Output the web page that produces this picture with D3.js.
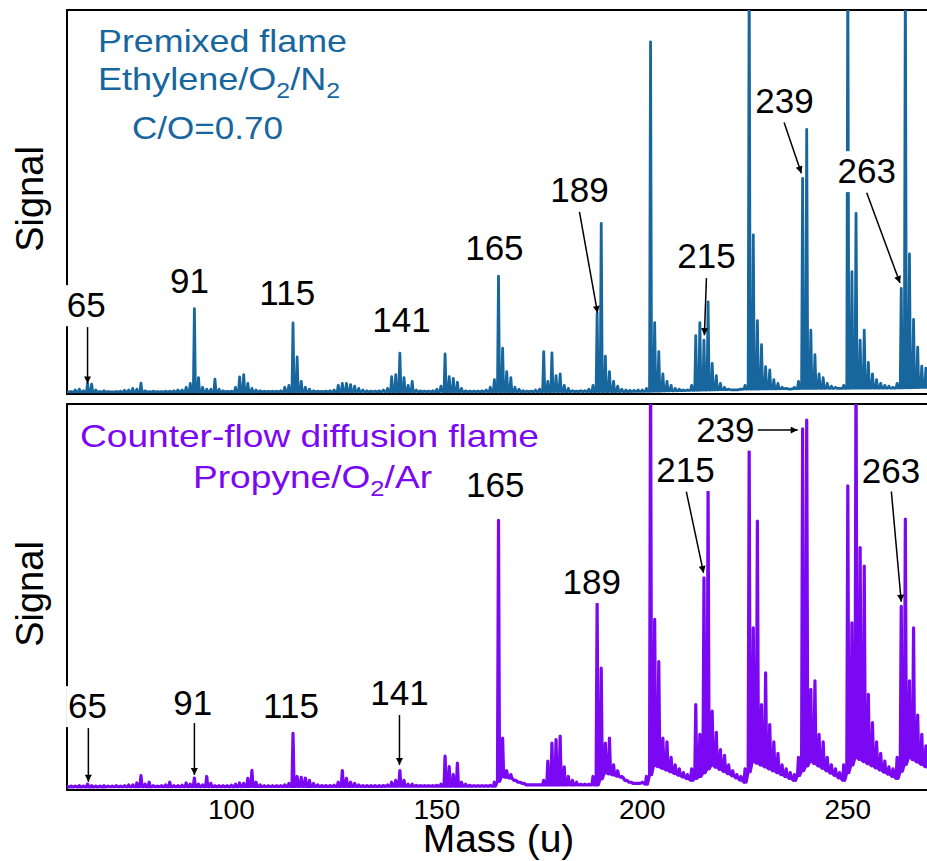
<!DOCTYPE html>
<html>
<head>
<meta charset="utf-8">
<script src="https://cdn.jsdelivr.net/npm/d3@7"></script>
<style>
body { margin: 0; background: #ffffff; }
svg text { font-family: "Liberation Sans", Arial, sans-serif; }
</style>
</head>
<body>
<div id="chart"></div>
<script>
// integer masses, 60..270 u
let masses = d3.range(60, 271);

// premixed flame signal (% of panel height, >100 runs off the top)
let signalTop = [
  0.3, 0.4, 0.8, 1.0, 0.6, 2.5, 2.3, 0.8, 0.4, 0.6,
  0.4, 0.3, 0.4, 0.5, 0.7, 0.8, 1.2, 1.0, 2.6, 0.6,
  0.4, 0.5, 0.4, 0.4, 0.5, 0.5, 0.6, 0.8, 0.8, 1.5,
  2.5, 22.0, 4.0, 1.5, 1.0, 1.0, 3.6, 1.0, 0.6, 0.4,
  0.5, 1.5, 4.2, 4.8, 2.5, 1.2, 0.8, 0.6, 0.5, 0.4,
  0.5, 0.5, 0.6, 1.5, 2.0, 18.3, 9.4, 3.0, 1.5, 1.0,
  0.6, 0.5, 0.4, 0.5, 0.6, 0.8, 2.0, 2.5, 2.5, 2.2,
  1.8, 1.2, 0.8, 0.6, 0.5, 0.5, 0.6, 0.8, 1.2, 4.3,
  4.8, 10.4, 4.0, 2.0, 3.0, 0.8, 0.6, 0.5, 0.5, 0.6,
  1.0, 1.8, 10.2, 4.3, 3.8, 2.8, 1.2, 0.6, 0.5, 0.5,
  0.5, 0.6, 0.8, 1.5, 3.5, 30.5, 11.7, 5.6, 4.0, 1.5,
  1.0, 0.6, 0.5, 0.5, 0.8, 1.0, 10.8, 3.0, 10.5, 4.5,
  5.0, 2.0, 1.2, 0.6, 0.5, 0.6, 0.6, 1.0, 2.0, 20.8,
  44.3, 9.6, 5.6, 3.0, 1.8, 1.0, 0.8, 0.7, 0.7, 0.8,
  0.8, 1.2, 91.7, 18.4, 10.8, 5.0, 3.0, 2.0, 1.2, 1.0,
  0.8, 0.8, 2.0, 15.0, 18.4, 13.8, 23.8, 7.7, 4.5, 2.5,
  1.5, 1.0, 0.8, 0.8, 1.0, 2.0, 112, 41.3, 18.9, 12.6,
  6.9, 6.0, 3.5, 2.5, 1.5, 1.2, 1.0, 1.5, 3.0, 56.0,
  68.8, 16.4, 10.0, 5.0, 4.0, 2.5, 1.8, 1.5, 1.2, 2.0,
  112, 31.7, 46.9, 13.8, 16.4, 8.0, 5.0, 3.5, 2.5, 2.0,
  1.8, 1.5, 2.5, 27.3, 112, 36.3, 19.2, 12.0, 7.0, 6.5,
  4.0
];

// counter-flow diffusion flame signal
let signalBottom = [
  0.4, 0.5, 0.5, 0.6, 0.5, 1.0, 0.6, 0.5, 0.5, 0.6,
  0.5, 0.5, 0.6, 0.5, 0.6, 0.8, 0.8, 1.3, 3.2, 1.0,
  1.5, 0.6, 0.5, 0.6, 0.8, 1.5, 0.6, 0.6, 0.7, 1.3,
  1.0, 2.6, 1.0, 0.8, 3.0, 1.2, 0.6, 0.6, 0.6, 0.6,
  0.7, 1.0, 1.3, 1.2, 2.5, 4.6, 1.5, 0.8, 0.6, 0.6,
  0.6, 0.6, 0.6, 0.8, 1.2, 14.2, 3.0, 2.8, 2.6, 2.0,
  1.2, 0.8, 0.6, 0.6, 0.6, 0.7, 1.5, 4.5, 2.5, 1.5,
  1.2, 0.8, 0.6, 0.6, 0.6, 0.6, 0.6, 0.7, 0.8, 1.5,
  2.0, 4.5, 2.0, 1.0, 1.0, 0.7, 0.6, 0.6, 0.6, 0.6,
  0.7, 1.0, 8.3, 5.6, 3.5, 6.5, 1.5, 1.0, 0.7, 0.6,
  0.6, 0.6, 0.6, 0.7, 1.5, 69.7, 13.0, 4.5, 3.5, 2.0,
  1.5, 1.2, 0.8, 0.8, 0.8, 0.8, 2.0, 7.0, 11.7, 12.6,
  13.5, 5.5, 3.0, 2.0, 1.5, 1.0, 1.0, 1.0, 3.0, 48.2,
  31.2, 11.7, 13.0, 6.0, 4.5, 3.0, 2.0, 1.5, 1.2, 1.2,
  1.5, 3.0, 112, 43.9, 32.9, 13.0, 12.0, 8.0, 6.0, 5.0,
  4.0, 3.5, 5.0, 21.7, 14.0, 54.7, 77.4, 20.0, 14.5, 10.0,
  8.5, 6.0, 4.5, 3.5, 3.0, 5.0, 87.8, 41.7, 69.5, 21.7,
  30.0, 16.5, 12.0, 9.0, 6.0, 5.0, 4.0, 3.5, 8.0, 93.5,
  95.8, 25.7, 27.9, 14.0, 12.0, 8.0, 6.0, 5.0, 4.0, 6.0,
  78.7, 43.0, 112, 62.6, 57.8, 24.4, 17.0, 12.0, 9.0, 7.0,
  5.5, 5.0, 8.0, 47.3, 70.0, 27.9, 41.7, 19.0, 14.0, 11.0,
  9.0
];

// background level between the mass peaks
let floorMassTop = [60, 200, 225, 240, 262, 270];
let floorTop = [0.3, 0.4, 1.0, 1.2, 1.3, 1.5];
let floorMassBottom = [60, 164, 166, 176, 189, 191, 201, 203, 212, 214, 217, 225, 227, 237, 241, 249, 252, 262, 265, 270];
let floorBottom = [0.3, 0.5, 3, 0.8, 0.8, 4, 1.0, 6, 2, 3, 6, 1.5, 7, 2, 7, 2, 8, 2.5, 8, 5];

let massTicks = [100, 150, 200, 250];

// peak labels: text anchor and optional arrow, in (mass, signal) units
let labelsTop = [
  {text: "65",  at: [64.7, 19.8], arrow: [[65, 17.2], [65, 2.5]]},
  {text: "91",  at: [89.8, 26.1]},
  {text: "115", at: [113.6, 23.0]},
  {text: "141", at: [141.4, 15.9]},
  {text: "165", at: [164.0, 34.7]},
  {text: "189", at: [184.7, 49.9], arrow: [[184.7, 47.3], [189.1, 20.9]]},
  {text: "215", at: [215.6, 32.6], arrow: [[215.6, 30.0], [215.1, 15.1]]},
  {text: "239", at: [234.6, 73.1], arrow: [[234.5, 70.6], [238.7, 57.4]]},
  {text: "263", at: [254.6, 54.8], arrow: [[254.6, 52.3], [262.7, 28.7]]}
];
let labelsBottom = [
  {text: "65",  at: [65.0, 18.2], arrow: [[65.2, 15.6], [65.2, 1.6]]},
  {text: "91",  at: [90.6, 19.0], arrow: [[91.0, 16.9], [91.0, 3.4]]},
  {text: "115", at: [114.5, 18.2]},
  {text: "141", at: [140.9, 21.6], arrow: [[140.9, 19.0], [140.9, 6.0]]},
  {text: "165", at: [164.2, 75.8]},
  {text: "189", at: [187.7, 50.5]},
  {text: "215", at: [210.5, 79.7], arrow: [[210.7, 77.2], [214.9, 56.0]]},
  {text: "239", at: [220.2, 90.2], arrow: [[228.1, 93.2], [237.8, 93.2]]},
  {text: "263", at: [260.5, 79.4], arrow: [[260.6, 77.2], [263.0, 48.5]]}
];

let blue = "#17669e";
let purple = "#7a08f2";

const width = 927;
const height = 861;
const left = 67;
const right = 930;

var svg = d3.select("#chart")
    .append("svg")
    .attr("width", width)
    .attr("height", height);

var defs = svg.append("defs");
defs.append("marker")
    .attr("id", "head")
    .attr("viewBox", "0 0 10 10")
    .attr("refX", 10)
    .attr("refY", 5)
    .attr("markerWidth", 10)
    .attr("markerHeight", 7)
    .attr("markerUnits", "userSpaceOnUse")
    .attr("orient", "auto")
    .append("path")
    .attr("d", "M0,0 L10,5 L0,10 Z")
    .attr("fill", "#000");

var x = d3.scaleLinear().domain([60, 270]).range([left, right]);

var panels = [
    {id: "top", top: 10, base: 393, bottom: 394, values: signalTop, floorMass: floorMassTop, floor: floorTop,
     colour: blue, weight: 2.8, labels: labelsTop, signalY: 199},
    {id: "bottom", top: 404, base: 788, bottom: 790, values: signalBottom, floorMass: floorMassBottom, floor: floorBottom,
     colour: purple, weight: 3.2, labels: labelsBottom, signalY: 594}
];

panels.forEach(function(p) {
    var y = d3.scaleLinear().domain([0, 100]).range([p.base, p.top]);
    var floorAt = d3.scaleLinear().domain(p.floorMass).range(p.floor).clamp(true);

    defs.append("clipPath")
        .attr("id", "clip-" + p.id)
        .append("rect")
        .attr("x", left)
        .attr("y", p.top)
        .attr("width", right - left)
        .attr("height", p.bottom - p.top);

    svg.append("rect")
        .attr("x", left)
        .attr("y", p.top)
        .attr("width", right - left)
        .attr("height", p.bottom - p.top)
        .attr("fill", "none")
        .attr("stroke", "#000")
        .attr("stroke-width", 2);

    // each mass becomes a narrow spike standing on the background
    var pts = [];
    masses.forEach(function(m, i) {
        var f = Math.min(floorAt(m), p.values[i]);
        pts.push([m - 0.25, f], [m, p.values[i]], [m + 0.25, f]);
    });

    var line = d3.line()
        .x(function(d) { return x(d[0]); })
        .y(function(d) { return y(d[1]); });

    svg.append("path")
        .datum(pts)
        .attr("clip-path", "url(#clip-" + p.id + ")")
        .attr("d", line)
        .attr("fill", "none")
        .attr("stroke", p.colour)
        .attr("stroke-width", p.weight)
        .attr("stroke-linejoin", "round");

    // labels with a white backing, then arrows
    var g = svg.append("g");
    p.labels.forEach(function(l) {
        var t = g.append("text")
            .attr("x", x(l.at[0]))
            .attr("y", y(l.at[1]))
            .attr("text-anchor", "middle")
            .attr("font-size", 35)
            .attr("fill", "#000")
            .text(l.text);
        var bb = t.node().getBBox();
        g.insert("rect", function() { return t.node(); })
            .attr("x", bb.x - 2)
            .attr("y", bb.y)
            .attr("width", bb.width + 4)
            .attr("height", bb.height + 2)
            .attr("fill", "#fff");
        if (l.arrow) {
            g.append("line")
                .attr("x1", x(l.arrow[0][0]))
                .attr("y1", y(l.arrow[0][1]))
                .attr("x2", x(l.arrow[1][0]))
                .attr("y2", y(l.arrow[1][1]))
                .attr("stroke", "#000")
                .attr("stroke-width", 1.5)
                .attr("marker-end", "url(#head)");
        }
    });

    svg.append("text")
        .attr("transform", "translate(43," + p.signalY + ") rotate(-90)")
        .attr("text-anchor", "middle")
        .attr("font-size", 38)
        .text("Signal");
});

// panel titles; parts starting with "_" are subscripts
function title(lines, colour) {
    lines.forEach(function(l) {
        var t = svg.append("text")
            .attr("x", l.x)
            .attr("y", l.y)
            .attr("font-size", 32)
            .attr("fill", colour)
            .attr("textLength", l.w)
            .attr("lengthAdjust", "spacingAndGlyphs");
        var lastSub = false;
        l.parts.forEach(function(part) {
            var sub = part[0] === "_";
            t.append("tspan")
                .attr("font-size", sub ? 22 : 32)
                .attr("dy", sub ? 8 : (lastSub ? -8 : 0))
                .text(sub ? part.slice(1) : part);
            lastSub = sub;
        });
    });
}

title([
    {x: 98, y: 52, w: 249, parts: ["Premixed flame"]},
    {x: 98, y: 90, w: 242, parts: ["Ethylene/O", "_2", "/N", "_2"]},
    {x: 132, y: 139, w: 151, parts: ["C/O=0.70"]}
], blue);

title([
    {x: 80, y: 447, w: 459, parts: ["Counter-flow diffusion flame"]},
    {x: 193, y: 488, w: 239, parts: ["Propyne/O", "_2", "/Ar"]}
], purple);

// mass axis
svg.append("g")
    .selectAll("text")
    .data(massTicks)
    .enter().append("text")
    .attr("x", function(d) { return x(d); })
    .attr("y", 819)
    .attr("text-anchor", "middle")
    .attr("font-size", 28)
    .text(function(d) { return d; });

svg.append("text")
    .attr("x", (left + right) / 2)
    .attr("y", 852)
    .attr("text-anchor", "middle")
    .attr("font-size", 39)
    .text("Mass (u)");
</script>
</body>
</html>
